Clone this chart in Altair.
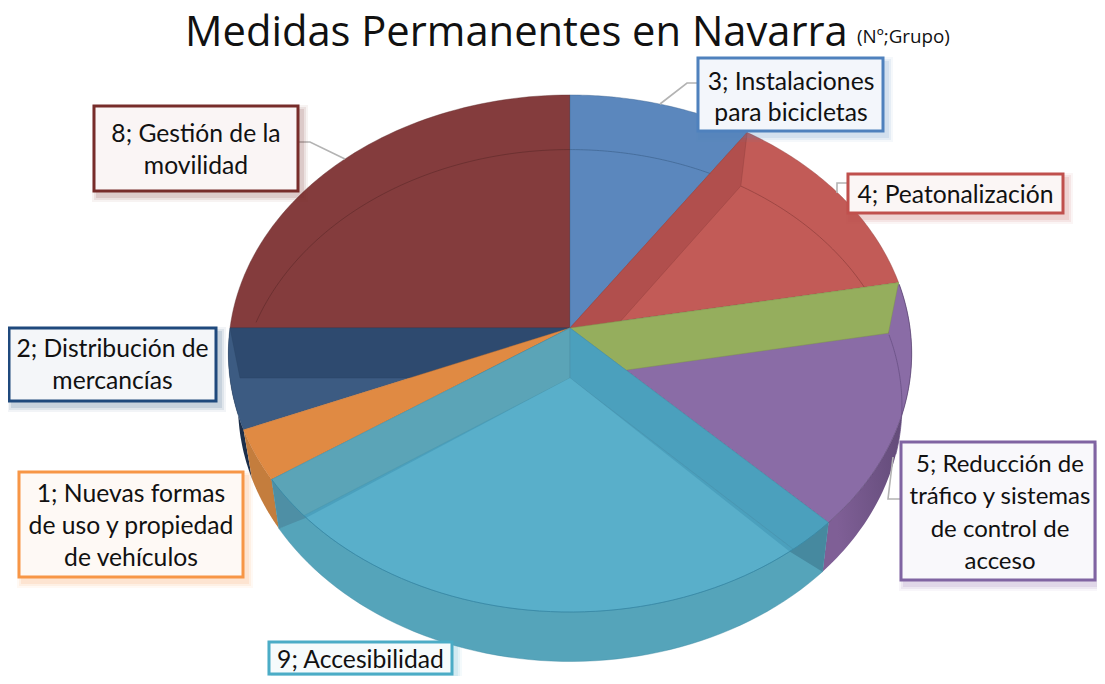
import math
import altair as alt
import numpy as np

# ---- data -------------------------------------------------------------
series_names = ["3; Instalaciones para bicicletas", "4; Peatonalización", "6", "5; Reducción de tráfico y sistemas de control de acceso",
                "9; Accesibilidad", "1; Nuevas formas de uso y propiedad de vehículos", "2; Distribución de mercancías", "8; Gestión de la movilidad"]
series_degrees = [34.3, 45.3, 0.4, 55.0, 101.0, 11.5, 22.5, 90.0]

title_main = "Medidas Permanentes en Navarra"
title_note = "(Nº;Grupo)"

box_lines = [
    ["3; Instalaciones", "para bicicletas"],
    ["4; Peatonalización"],
    ["5; Reducción de", "tráfico y sistemas", "de control de", "acceso"],
    ["9; Accesibilidad"],
    ["1; Nuevas formas", "de uso y propiedad", "de vehículos"],
    ["2; Distribución de", "mercancías"],
    ["8; Gestión de la", "movilidad"],
]

# ---- layout / style -----------------------------------------------------
OFF = 8
FONT = "Lato"
K_T, A_T, B_T, CY_T = 0.0986, 256, 340, 328
K_B, A_B, B_B, CY_B = 0.1076, 253, 330, 378
CX = 570

boxes = [  # l, t, r, b, stroke, fill, line centres, text centre, font size
    (698, 58, 883, 131, "#4f81bd", "#f3f6fb", [83, 114], 791, 24.7),
    (848, 174, 1063, 213, "#c0504d", "#fbf6f5", [196], 955.5, 24.7),
    (901, 442, 1095, 580, "#8064a2", "#f9f8fb", [465, 497, 530, 562], 1000, 24),
    (269, 642, 452, 674, "#4bacc6", "#f6fbfc", [661], 360.5, 24.7),
    (19, 472, 243, 577, "#f79646", "#fef9f5", [495, 527, 559], 131, 24.7),
    (9, 328, 216, 401, "#1f497d", "#f4f6f9", [350, 382], 112.5, 24.7),
    (94, 106, 298, 191, "#772c2a", "#faf5f5", [135, 167], 196, 24.7),
]
leaders = [
    [(698, 83), (687, 83), (660, 104)],
    [(848, 183), (837, 183), (837, 193)],
    [(901, 499), (888, 499), (893, 457)],
    [(298, 142), (310, 142), (345, 159)],
]

edges = [float(v) for v in np.cumsum(series_degrees)]
e_blue, e_red, e_green, e_purple, e_teal, e_orange, e_navy, e_end = edges


def top(a):
    r = math.radians(a)
    w = 1 + K_T * math.cos(r)
    return [CX + B_T * math.sin(r) / w, CY_T - A_T * math.cos(r) / w]


def bot(a):
    r = math.radians(a)
    w = 1 + K_B * math.cos(r)
    return [CX + B_B * math.sin(r) / w, CY_B - A_B * math.cos(r) / w]


def arc(f, a0, a1, n=60):
    return [f(float(a)) for a in np.linspace(a0, a1, n)]


APEX_T = [CX, CY_T]
APEX_B = [CX, CY_B]
proj = dict(type="identity", scale=1, translate=[-OFF, -OFF])


def poly(pts, color, stroke=None, sw=0.8, so=0.5, op=1.0):
    pts = [list(p) for p in pts]
    pts = pts + [pts[0]]
    feat = {"type": "Feature", "properties": {}, "geometry": {"type": "Polygon", "coordinates": [pts]}}
    kw = dict(fill=color, opacity=op, strokeWidth=sw if stroke else 0)
    if stroke:
        kw.update(stroke=stroke, strokeOpacity=so)
    return alt.Chart(alt.Data(values=[feat])).mark_geoshape(**kw).project(**proj)


def path(pts, color, sw=1.0, op=1.0):
    feat = {"type": "Feature", "properties": {},
            "geometry": {"type": "LineString", "coordinates": [list(p) for p in pts]}}
    return alt.Chart(alt.Data(values=[feat])).mark_geoshape(
        filled=False, stroke=color, strokeWidth=sw, strokeOpacity=op
    ).project(**proj)


def wedge(a0, a1, color, stroke=None):
    return poly([APEX_T] + arc(top, a0, a1), color, stroke)


def wall_side(a0, a1, color, stroke=None):
    return poly(arc(top, a0, a1) + arc(bot, a1, a0), color, stroke)


def wall_in(a, color, stroke=None):
    return poly([APEX_T, top(a), bot(a), APEX_B], color, stroke)


def grad(c0, c1):
    return alt.LinearGradient(gradient="linear", x1=1, x2=0, y1=0, y2=0.3,
                              stops=[alt.GradientStop(offset=0, color=c0), alt.GradientStop(offset=1, color=c1)])


layers = []
# outer walls
layers.append(wall_side(e_orange, e_navy, "#1b2e4a"))
layers.append(wall_side(e_teal, e_orange, "#c47d3d"))
layers.append(wall_side(e_green, e_purple, grad("#5a4570", "#7f5f96")))
layers.append(poly([APEX_B] + arc(bot, e_purple, e_teal), "#55a4ba", "#3f8aa3"))
# top faces
layers.append(wedge(e_navy, e_end, "#843c3d", "#5e2a2a"))
layers.append(wedge(0, e_blue, "#5b87bd", "#3f648f"))
layers.append(wedge(e_blue, e_red, "#c25b57", "#8f3f3c"))
layers.append(wedge(e_green, e_purple, "#8a6ca6", "#654c80"))
layers.append(wedge(e_orange, e_navy, "#3c5b82", "#2a4363"))
# ring of the lower face, seen through the upper one
layers.append(path(arc(bot, e_navy + 13, e_end), "#5e2a2a", 0.9, 0.7))
layers.append(path(arc(bot, 0, e_blue - 4), "#3f648f", 0.9, 0.8))
layers.append(path(arc(bot, e_blue, e_red), "#8f3f3c", 0.9, 0.8))
layers.append(path(arc(bot, e_green, e_green + 27), "#654c80", 0.9, 0.8))
# inner walls
layers.append(wall_in(e_blue, "#b14f4d", "#8f3f3c"))
layers.append(wedge(e_red, e_green, "#95ae5d"))
layers.append(wall_in(e_red, "#95ae5d", "#7a8f4c"))
layers.append(wall_in(e_navy, "#2e4a6f", "#2a4363"))
layers.append(wedge(e_teal, e_orange, "#e08a43", "#c47432"))
layers.append(wedge(e_purple, e_teal, "#4ba0bd", "#3f8aa3"))
layers.append(wall_in(e_teal, "#5ba4b7", "#4a93a8"))
layers.append(wall_in(e_purple, "#4ba0bd", "#4a8aa3"))
# visible lighter floor of the wedge
layers.append(poly([APEX_B] + arc(top, e_purple + 8.5, e_teal - 9.7), "#59afca"))
# corners where walls meet the outer rim
layers.append(poly(arc(top, e_purple, e_purple + 8.5) + [bot(e_purple)], "#46899f"))
layers.append(poly(arc(top, e_teal - 9.7, e_teal) + [bot(e_teal)], "#4e8fa5"))
layers.append(path(arc(top, e_purple, e_teal), "#3a8aa6", 1.0, 0.9))
layers.append(path(arc(top, e_green, e_purple), "#5a4570", 0.8, 0.6))

# leaders
for pts in leaders:
    layers.append(path(pts, "#b3b3b3", 1.6))

one = alt.Data(values=[{}])
# boxes
for (l, t, r, b, stroke, fill, ys, tx, fs), lines in zip(boxes, box_lines):
    for grow, op in ((6, 0.06), (4, 0.09), (2, 0.12)):
        layers.append(alt.Chart(one).mark_rect(fill=stroke, opacity=op).encode(
            x=alt.value(l + 4 - grow - OFF), x2=alt.value(r + 4 + grow - OFF),
            y=alt.value(t + 5 - grow - OFF), y2=alt.value(b + 5 + grow - OFF)))
    layers.append(alt.Chart(one).mark_rect(fill=fill, stroke=stroke, strokeWidth=3).encode(
        x=alt.value(l - OFF), x2=alt.value(r - OFF), y=alt.value(t - OFF), y2=alt.value(b - OFF)))
    for line, y in zip(lines, ys):
        layers.append(alt.Chart(one).mark_text(font=FONT, fontSize=fs, color="#111111",
                                               align="center", baseline="middle").encode(
            x=alt.value(tx - OFF), y=alt.value(y - OFF), text=alt.value(line)))

# title
layers.append(alt.Chart(one).mark_text(font="Open Sans", fontSize=41.7, color="#111111", align="left", baseline="middle").encode(
    x=alt.value(185 - OFF), y=alt.value(33 - OFF), text=alt.value(title_main)))
layers.append(alt.Chart(one).mark_text(font="Open Sans", fontSize=18.8, color="#111111", align="left", baseline="middle").encode(
    x=alt.value(857 - OFF), y=alt.value(37 - OFF), text=alt.value(title_note)))

chart = alt.layer(*layers).properties(
    width=1089, height=668, padding=0, autosize=alt.AutoSizeParams(type="none")
).configure_view(stroke=None)

chart.save("out.html", embed_options={"renderer": "svg", "actions": False})
